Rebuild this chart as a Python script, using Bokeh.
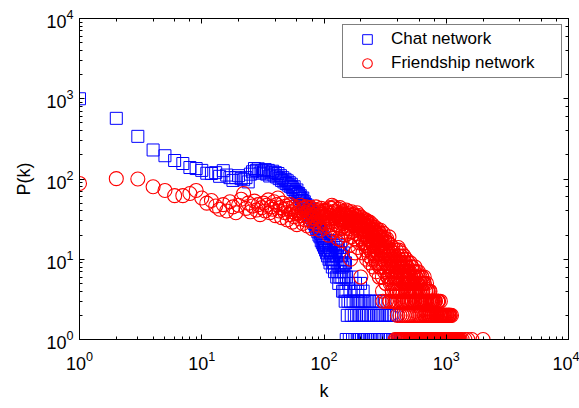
from bokeh.plotting import figure
from bokeh.models import (Range1d, LogAxis, LogTicker, Legend, LegendItem,
                          CustomJSTickFormatter)
from bokeh.embed import file_html
from bokeh.resources import INLINE

# ---------------- data ----------------
chat_k = [1, 2, 3, 4, 5, 6, 7, 8, 9, 10,
          11, 12, 13, 14, 15, 16, 17, 18, 19, 20,
          21, 22, 23, 24, 25, 26, 27, 28, 29, 30,
          31, 32, 33, 34, 35, 36, 37, 38, 39, 40,
          41, 42, 43, 44, 45, 46, 47, 48, 49, 50,
          51, 52, 53, 54, 55, 56, 57, 58, 59, 60,
          61, 62, 63, 64, 65, 66, 67, 68, 69, 70,
          71, 72, 73, 74, 75, 76, 77, 78, 79, 80,
          81, 82, 83, 84, 85, 86, 87, 88, 89, 90,
          91, 92, 93, 94, 95, 96, 97, 98, 99, 100,
          101, 102, 103, 104, 105, 106, 107, 108, 109, 110,
          111, 112, 113, 114, 115, 116, 117, 118, 119, 120,
          121, 122, 123, 124, 125, 126, 127, 128, 129, 130,
          131, 132, 133, 134, 135, 136, 137, 138, 139, 140,
          141, 142, 143, 144, 145, 146, 147, 148, 149, 150,
          151, 152, 153, 155, 157, 159, 161, 163, 165, 167, 169,
          171, 173, 175, 177, 179, 181, 183, 185, 187, 189,
          191, 193, 195, 197, 199, 201, 203, 205, 207, 209,
          211, 213, 215, 218, 221, 224, 227, 231, 235, 239,
          243, 247, 251, 256, 261, 266, 271, 276, 281, 286,
          292, 298, 304, 310, 316, 322, 329, 336, 343, 350,
          358, 366, 374, 382, 391, 400, 410, 420, 432, 445]
chat_p = [1000, 570, 340, 230, 195, 170, 156, 139, 135, 128,
          118, 117, 120, 108, 127, 112, 104, 96, 104, 110,
          101, 98, 104, 92, 115, 123, 135, 128, 134, 118,
          126, 122, 131, 115, 128, 109, 119, 125, 112, 120,
          106, 117, 101, 110, 96, 104, 92, 99, 88, 95,
          84, 90, 81, 86, 78, 74, 80, 70, 68, 73,
          64, 66, 60, 62, 57, 54, 58, 50, 52, 47,
          48, 44, 41, 46, 39, 42, 36, 40, 33, 37,
          31, 35, 28, 32, 26, 30, 24, 27, 22, 25,
          20, 23, 19, 21, 17, 22, 16, 19, 15, 18,
          14, 17, 13, 16, 12, 15, 11, 17, 13, 10,
          14, 9, 12, 16, 10, 13, 8, 11, 15, 9,
          12, 7, 10, 13, 17, 11, 6, 9, 14, 7,
          15, 5, 8, 12, 6, 9, 14, 7, 11, 6,
          8, 4, 10, 12, 7, 4, 9, 6, 3, 9,
          4, 1, 6, 2, 3, 5, 1, 4, 3, 2, 6,
          1, 3, 4, 2, 1, 5, 3, 2, 1, 4,
          3, 2, 1, 3, 5, 2, 1, 3, 2, 4,
          1, 3, 2, 1, 3, 2, 1, 2, 3, 1,
          2, 1, 3, 2, 1, 3, 2, 1, 2, 3,
          1, 2, 1, 3, 2, 1, 2, 1, 2, 1,
          2, 1, 2, 1, 2, 1, 1, 1, 1, 1]

friend_k = [1, 2, 3, 4, 5, 6, 7, 8, 9, 10,
            11, 12, 13, 14, 15, 16, 17, 18, 19, 20,
            21, 22, 23, 24, 25, 26, 27, 28, 29, 30,
            31, 32, 33, 34, 35, 36, 37, 38, 39, 40,
            41, 42, 43, 44, 45, 46, 47, 48, 49, 50,
            51, 52, 53, 54, 55, 56, 57, 58, 59, 60,
            61, 62, 63, 64, 65, 66, 67, 68, 69, 70,
            71, 72, 73, 74, 75, 76, 77, 78, 79, 80,
            81, 82, 83, 84, 85, 86, 87, 88, 89, 90,
            91, 92, 93, 94, 95, 96, 97, 98, 99, 100,
            102, 104, 106, 108, 110, 112, 114, 116, 118, 120,
            122, 124, 126, 128, 130, 132, 134, 136, 138, 140,
            142, 144, 146, 148, 150, 152, 154, 156, 158, 160,
            162, 164, 166, 168, 170, 172, 174, 176, 178, 180,
            182, 184, 186, 188, 190, 192, 194, 196, 198, 200,
            203, 206, 209, 212, 215, 218, 221, 224, 227, 230,
            233, 236, 239, 242, 245, 248, 251, 254, 257, 260,
            263, 266, 269, 272, 275, 278, 281, 284, 287, 290,
            294, 298, 301, 306, 310, 314, 318, 321, 326, 330,
            335, 340, 346, 350, 355, 361, 365, 370, 373, 380,
            385, 388, 390, 395, 398, 405, 410, 415, 420, 425,
            430, 435, 440, 445, 450, 455, 460, 465, 470, 475,
            480, 485, 490, 495, 500, 508, 516, 524, 532, 540,
            548, 556, 564, 572, 580, 590, 600, 610, 620, 630,
            640, 650, 660, 670, 680, 690, 700, 712, 724, 736,
            748, 760, 772, 785, 798, 812, 826, 840, 855, 870,
            885, 900, 915, 930, 946, 962, 978, 995, 1012, 1030,
            1048, 1066, 1085, 1104, 1124, 1145, 1166, 1188, 1210, 1235,
            1260, 382, 392, 402, 412, 422, 432, 442, 452, 462,
            472, 482, 492, 503, 512, 520, 528, 536, 544, 552,
            560, 568, 576, 585, 595, 605, 615, 625, 635, 645,
            655, 665, 675, 685, 695, 706, 718, 730, 742, 754,
            766, 779, 792, 805, 819, 833, 848, 862, 878, 893,
            908, 923, 938, 954, 970, 987, 1003, 1021, 1039, 1057,
            1075, 1095, 1114, 1134, 1155, 1177, 1199, 1222, 1247, 1275,
            1300, 1350, 1420, 1500, 1620, 2000,
            418, 438, 458, 478, 498, 515, 535, 555, 575, 598,
            618, 642, 665, 688, 715, 740, 765, 792, 820, 850,
            880, 910, 940, 975, 1010, 1045, 1080,
            303, 323, 343, 363, 383, 403, 423, 443, 463, 483,
            505, 527, 551, 577, 603, 633, 663, 697, 733, 770,
            810, 855, 895,
            101, 105, 109, 113, 117, 121, 125, 129, 133, 137,
            141, 145, 149, 153, 157, 161, 165, 169, 173, 177,
            181, 185, 189, 193, 197,
            202, 205, 208, 211, 214, 217, 220, 223, 226, 229,
            232, 235, 238, 241, 244, 247, 250, 253, 256, 259,
            262, 265, 268, 271, 274, 277, 280, 283, 286, 289,
            292, 296, 300, 304, 308, 312, 316, 320, 324, 328,
            332, 337, 342, 348, 352, 357, 363, 368, 372, 377,
            382, 387, 393, 397,
            402, 408, 413, 418, 423, 428, 433, 438, 443, 448,
            453, 458, 463, 468, 473, 478, 483, 488, 493, 498,
            504, 512, 520, 528, 536, 544, 552, 560, 568, 576,
            586, 596, 606, 616, 626, 636, 646, 656, 668, 680,
            692, 705, 718, 731, 745, 758, 772, 787, 803, 818,
            835, 852, 870, 888, 905, 925, 950,
            103, 107, 111, 115, 119, 123, 127, 131, 135, 139,
            143, 147, 151, 155, 159, 163, 167, 171, 175, 179,
            183, 187, 191, 195, 199,
            204, 207, 210, 213, 216, 219, 222, 225, 228, 231,
            234, 237, 240, 243, 246, 249, 252, 255, 258, 261,
            264, 267, 270, 273, 276, 279, 282, 285, 288, 291,
            295, 299, 303, 307, 311, 315, 319, 323, 327, 331,
            334, 339, 344, 347, 351, 354, 359, 362, 367, 371,
            376, 379, 384, 389, 392, 396, 399,
            403, 407, 411, 416, 421, 426, 431, 436, 441, 446,
            451, 456, 461, 466, 471, 476, 481, 486, 491, 496,
            502, 510, 518, 526, 534, 542, 550, 558, 566, 574,
            583, 593, 603, 613, 623, 633, 643, 653, 663, 675,
            687, 700, 714, 727, 741, 755, 769, 784, 800, 816,
            832, 849, 866, 884, 902, 921, 942, 960, 982, 1005,
            1025, 1050, 1070, 1100]
friend_p = [88, 101, 100, 80, 72, 62, 62, 66, 72, 58,
            50, 54, 46, 42, 48, 40, 52, 45, 38, 47,
            56, 66, 43, 50, 39, 46, 53, 41, 48, 36,
            44, 50, 40, 47, 55, 38, 45, 42, 52, 35,
            48, 58, 40, 44, 33, 50, 42, 38, 46, 31,
            43, 36, 48, 39, 29, 45, 34, 41, 37, 27,
            44, 38, 32, 47, 35, 40, 28, 43, 36, 31,
            45, 38, 26, 41, 34, 39, 30, 44, 36, 24,
            40, 33, 42, 29, 37, 45, 31, 38, 27, 41,
            34, 39, 23, 36, 43, 30, 37, 33, 40, 28,
            35, 41, 26, 38, 32, 44, 29, 47, 22, 39,
            33, 40, 27, 35, 18, 42, 31, 37, 24, 34,
            39, 28, 36, 20, 33, 41, 30, 25, 37, 32,
            15, 35, 28, 39, 22, 33, 30, 36, 26, 12,
            34, 29, 38, 23, 31, 27, 35, 19, 30, 6,
            33, 28, 24, 31, 20, 27, 16, 30, 22, 26,
            18, 29, 13, 24, 21, 27, 15, 23, 19, 25,
            11, 22, 17, 24, 14, 20, 9, 21, 16, 23,
            12, 19, 4, 21, 8, 17, 13, 5, 18, 16,
            6, 19, 3, 15, 7, 4, 14, 12, 3, 11,
            8, 3, 13, 4, 2, 14, 13, 9, 4, 11,
            12, 8, 3, 10, 11, 7, 9, 4, 10, 8,
            3, 7, 9, 2, 6, 9, 4, 8, 3, 7,
            4, 8, 6, 7, 5, 7, 4, 6, 3, 6,
            5, 3, 6, 2, 3, 5, 2, 4, 2, 4,
            3, 3, 2, 3, 2, 3, 1, 2, 3, 1,
            2, 2, 1, 2, 1, 2, 1, 2, 2, 1,
            2, 1, 1, 2, 1, 1, 1, 1, 1, 1,
            1, 1, 1, 1, 1, 1, 1, 1, 1, 1,
            1, 1, 1, 1, 1, 1, 1, 1, 1, 1,
            1, 1, 1, 1, 1, 1, 1, 1, 1, 1,
            1, 1, 1, 1, 1, 1, 1, 1, 1, 1,
            1, 1, 1, 1, 1, 1, 1, 1, 1, 1,
            1, 1, 1, 1, 1, 1, 1, 1, 1, 1,
            1, 1, 1, 1, 1, 1, 1, 1, 1, 1,
            1, 1, 1, 1, 1, 1,
            2, 2, 2, 2, 2, 2, 2, 2, 2, 2,
            2, 2, 2, 2, 2, 2, 2, 2, 2, 2,
            2, 2, 2, 2, 2, 2, 2,
            3, 3, 3, 3, 3, 3, 3, 3, 3, 3,
            3, 3, 3, 3, 3, 3, 3, 3, 3, 3,
            3, 3, 3,
            25, 33, 20, 38, 27, 45, 30, 23, 36, 28,
            17, 31, 26, 35, 21, 29, 10, 27, 32, 18,
            25, 30, 14, 24, 28,
            18, 26, 12, 21, 28, 15, 23, 10, 19, 25,
            14, 21, 9, 17, 23, 12, 19, 8, 16, 21,
            10, 17, 7, 14, 19, 9, 15, 6, 13, 18,
            8, 14, 6, 12, 16, 7, 11, 5, 10, 14,
            6, 9, 12, 5, 8, 11, 4, 7, 10, 5,
            6, 8, 5, 7,
            6, 9, 4, 7, 5, 8, 4, 6, 5, 7,
            3, 5, 6, 4, 7, 5, 4, 6, 3, 5,
            4, 6, 3, 5, 4, 6, 3, 5, 4, 3,
            5, 3, 4, 5, 3, 4, 3, 5, 3, 4,
            3, 4, 3, 2, 3, 2, 3, 2, 3, 2,
            2, 3, 2, 2, 2, 2, 2,
            40, 29, 35, 43, 24, 33, 38, 26, 44, 31,
            22, 37, 29, 40, 24, 33, 19, 36, 27, 31,
            21, 34, 26, 16, 29,
            24, 30, 16, 26, 20, 31, 13, 24, 18, 28,
            11, 22, 17, 26, 10, 20, 15, 24, 12, 18,
            22, 9, 16, 20, 12, 17, 22, 8, 15, 19,
            10, 16, 13, 8, 14, 18, 9, 12, 7, 13,
            16, 8, 11, 6, 13, 9, 5, 10, 12, 6,
            9, 4, 10, 6, 7, 9, 4,
            11, 5, 8, 10, 6, 9, 3, 7, 9, 4,
            8, 6, 9, 5, 7, 4, 8, 5, 7, 4,
            7, 5, 8, 4, 6, 5, 7, 4, 6, 5,
            4, 6, 3, 5, 4, 6, 4, 3, 5, 4,
            3, 4, 3, 4, 3, 2, 3, 3, 2, 3,
            2, 2, 3, 2, 2, 2, 1, 2, 2, 1,
            2, 2, 2, 1]

series_names = ["Chat network", "Friendship network"]
x_label = "k"
y_label = "P(k)"

FONT = "Liberation Sans"

p = figure(width=579, height=408, x_axis_type="log", y_axis_type="log",
           x_range=Range1d(1, 10000), y_range=Range1d(1, 10000),
           output_backend="svg", toolbar_location=None,
           min_border_left=79, min_border_right=11,
           min_border_top=18, min_border_bottom=69)

p.xgrid.visible = False
p.ygrid.visible = False
p.outline_line_color = "black"
p.outline_line_width = 1
p.background_fill_color = "white"
p.border_fill_color = "white"

for ax in (p.xaxis[0], p.yaxis[0]):
    ax.axis_line_color = "black"
    ax.axis_line_width = 1
    ax.major_tick_in = 5
    ax.major_tick_out = 0
    ax.minor_tick_in = 3
    ax.minor_tick_out = 0
    ax.major_label_text_font = FONT
    ax.major_label_text_font_size = "18px"
    ax.major_label_text_color = "black"
    ax.axis_label_text_font = FONT
    ax.axis_label_text_font_size = "18px"
    ax.axis_label_text_font_style = "normal"
    ax.axis_label_text_color = "black"

p.xaxis[0].axis_label = x_label
p.yaxis[0].axis_label = y_label
p.xaxis[0].major_label_standoff = 11
p.yaxis[0].major_label_standoff = 6
p.xaxis[0].axis_label_standoff = 8
p.yaxis[0].axis_label_standoff = 9

blank = CustomJSTickFormatter(code="return ' '")
for side in ("above", "right"):
    ax = LogAxis(ticker=LogTicker(), formatter=blank)
    ax.major_tick_in = 5
    ax.major_tick_out = 0
    ax.minor_tick_in = 3
    ax.minor_tick_out = 0
    ax.major_label_text_font_size = "2px"
    ax.major_label_standoff = 0
    ax.axis_line_color = "black"
    p.add_layout(ax, side)

r_chat = p.scatter(chat_k, chat_p, marker="square", size=12,
                   line_color="#0000ff", fill_color=None, line_width=1)
r_friend = p.scatter(friend_k, friend_p, marker="circle", size=14,
                     line_color="#ff0000", fill_color=None, line_width=1.1)

legend = Legend(items=[LegendItem(label=series_names[0], renderers=[r_chat]),
                       LegendItem(label=series_names[1], renderers=[r_friend])],
                location="top_right")
legend.label_text_font = FONT
legend.label_text_font_size = "17px"
legend.label_text_color = "black"
legend.border_line_color = "black"
legend.border_line_width = 1
legend.background_fill_color = "white"
legend.background_fill_alpha = 1
legend.margin = 6
legend.padding = 2
legend.spacing = 0
legend.glyph_width = 44
legend.glyph_height = 24
legend.label_height = 24
legend.label_standoff = 2
legend.label_width = 168
p.add_layout(legend)

open("out.html", "w").write(file_html(p, INLINE))
